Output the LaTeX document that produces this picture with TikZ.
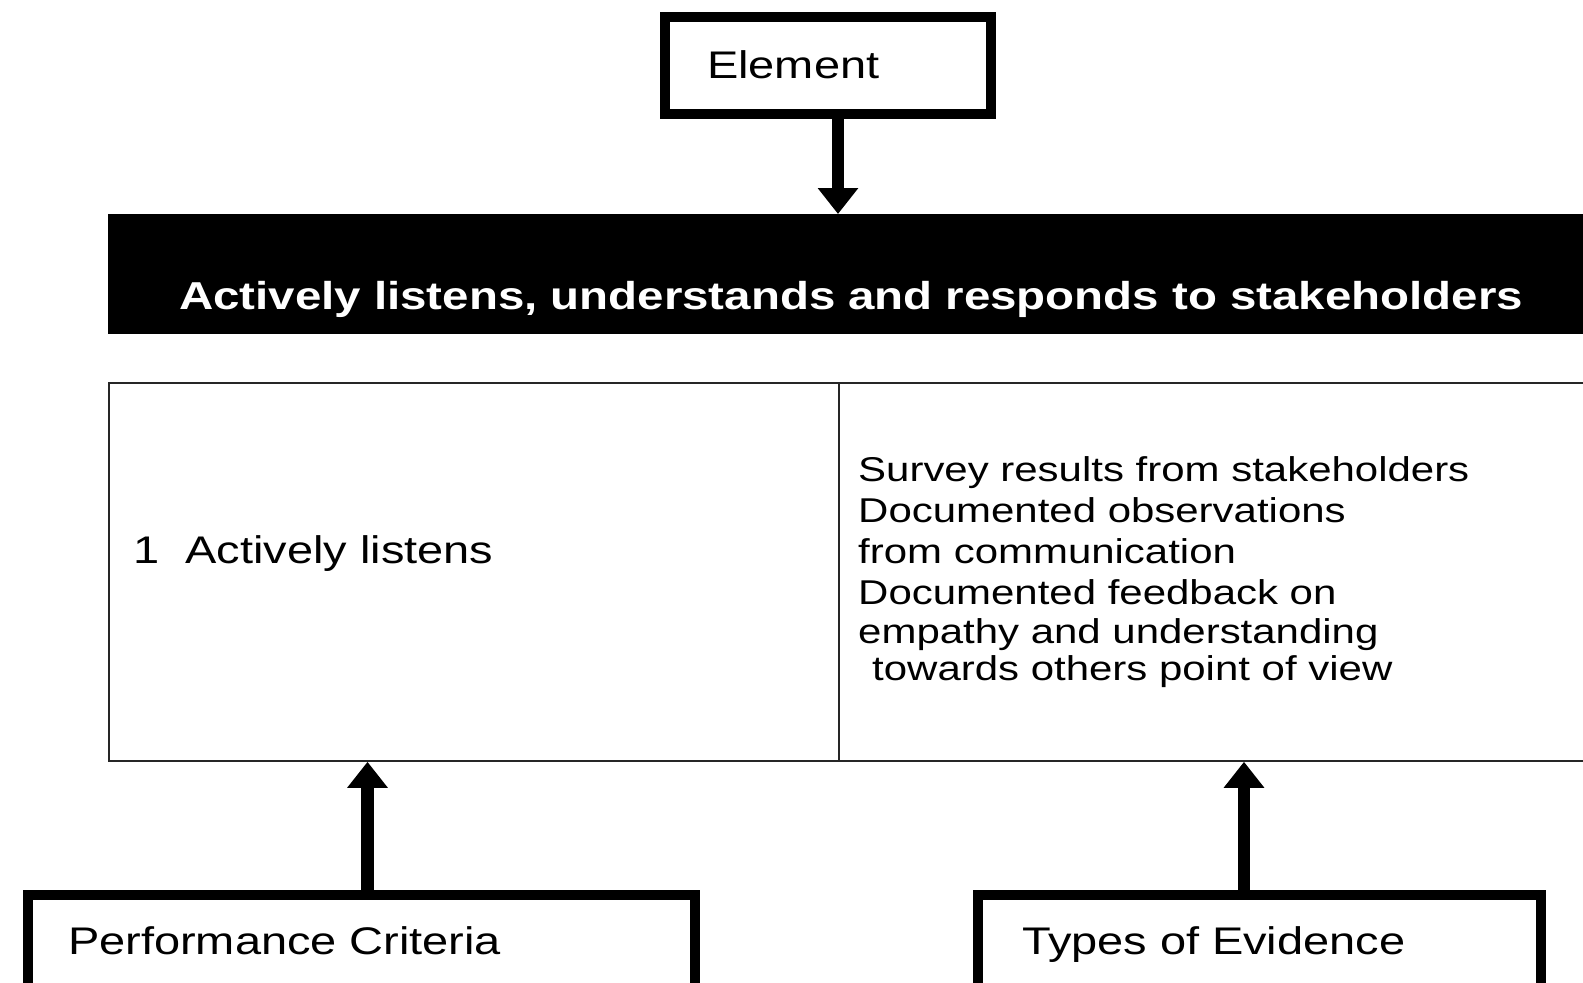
\documentclass[tikz,border=0pt]{standalone}
\usepackage{fontspec}
\setmainfont{Liberation Sans}[FakeStretch=1.22]
\usetikzlibrary{arrows.meta}

\begin{document}
\begin{tikzpicture}[x=1pt,y=-1pt,
    frame/.style = {draw, line width=10pt, inner ysep=0pt, align=left, anchor=north west},
    cell/.style = {draw=black!85, line width=1.8pt, inner ysep=0pt, align=left, anchor=north west},
    big/.style = {font=\fontsize{38.5}{46}\selectfont},
    small/.style = {font=\fontsize{34.4}{41}\selectfont},
    fat/.style = {-{Triangle[width=39pt,length=26pt]}, line width=12.5pt}]
    \useasboundingbox (0,0) rectangle (1583,983);
    \node[frame, big, inner xsep=42pt, text width=242pt, text height=61pt, text depth=36pt] (elem) at (660,12) {Element};
    \node[fill=black, text=white, font=\fontsize{38.9}{46}\selectfont\bfseries, inner xsep=71pt, inner ysep=0pt, text width=1450pt, text height=95pt, text depth=25pt, align=left, anchor=north west] (bar) at (108,214) {Actively listens, understands and responds to stakeholders};
    \node[cell, big, inner xsep=25pt, text width=680pt, text height=181pt, text depth=197pt] (crit) at (108,382) {1~~Actively listens};
    \node[cell, inner xsep=0pt, minimum width=860pt, minimum height=378pt] (evid) at (838,382) {};
    \node[small, inner sep=0pt, align=left, anchor=north west] (evidtxt) at ([xshift=20pt,yshift=-74.8pt]evid.north west) {Survey results from stakeholders\\
        Documented observations\\
        from communication\\
        Documented feedback on\\[-2pt]
        empathy and understanding\\[-4.3pt]
        \hspace*{14pt}towards others point of view};
    \node[frame, big, inner xsep=40.5pt, text width=586pt, text height=59pt, text depth=120pt] (pc) at (22.5,890) {Performance Criteria};
    \node[frame, big, inner xsep=44.5pt, text width=474.5pt, text height=59pt, text depth=120pt] (te) at (972.5,890) {Types of Evidence};
    \coordinate (pcup) at ([xshift=6.5pt]pc.north);
    \coordinate (teup) at ([xshift=-15.25pt]te.north);
    \draw[fat] (elem.south -| evid.west) -- (bar.north -| evid.west);
    \draw[fat] (pcup) -- (pcup |- crit.south);
    \draw[fat] (teup) -- (teup |- crit.south);
\end{tikzpicture}
\end{document}
